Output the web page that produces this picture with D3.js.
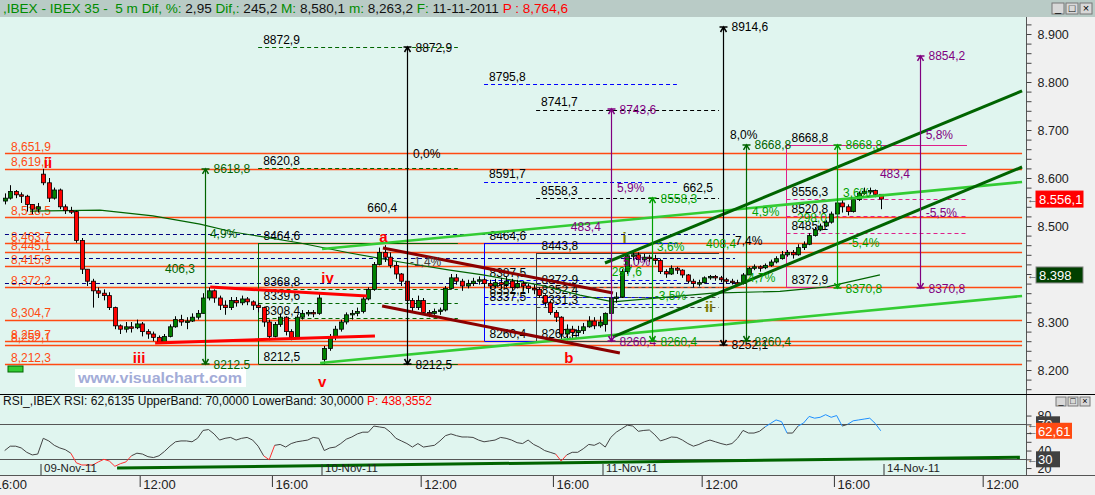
<!DOCTYPE html>
<html><head><meta charset="utf-8">
<script src="https://cdnjs.cloudflare.com/ajax/libs/d3/7.8.5/d3.min.js"></script>
<style>
html,body{margin:0;padding:0;background:#f0f0f0;overflow:hidden}
svg{display:block;font-family:"Liberation Sans",Arial,sans-serif}
</style></head><body>
<svg id="chart" width="1095" height="495"></svg>
<script>
// ================= DATA =================
const sessionDays   = ["08-Nov-11","09-Nov-11","10-Nov-11","11-Nov-11"];
const sessionIndex  = [-1, 0, 1, 2];
const sessionStart  = ["16:20","09:00","09:00","09:00"];
const sessionOpen   = [8552, 8608, 8222, 8295];

// 10-minute candles, IBEX 35
const nov8Close = [8558,8572,8565,8562,8545,8535,8540];
const nov8High  = [8568,8585,8575,8570,8565,8545,8548];
const nov8Low   = [8545,8555,8558,8548,8530,8525,8528];

const nov9Close = [8590,8558,8575,8540,8532,8530,8470,8410,8385,8365,8360,8355,8330,8292,8285,8290,8288,8296,8280,8275,8268,8258,8270,8290,8305,8300,8302,8310,8318,8350,8365,8350,8335,8330,8345,8340,8348,8342,8335,8330,8300,8270,8295,8310,8280,8268,8310,8318,8320,8318,8350];
const nov9High  = [8619,8600,8580,8578,8545,8540,8532,8475,8410,8390,8372,8368,8362,8332,8295,8300,8300,8305,8300,8285,8280,8272,8275,8295,8312,8315,8310,8318,8325,8360,8372,8368,8355,8345,8352,8352,8355,8352,8345,8340,8332,8305,8300,8318,8312,8285,8315,8325,8325,8325,8360];
const nov9Low   = [8585,8550,8555,8535,8525,8525,8465,8400,8375,8330,8350,8345,8325,8285,8275,8278,8278,8285,8270,8265,8260,8255,8255,8268,8288,8292,8285,8300,8305,8318,8345,8340,8325,8315,8325,8332,8335,8335,8325,8320,8290,8262,8268,8290,8272,8262,8265,8305,8312,8310,8315];

const nov10Close = [8245,8268,8285,8300,8315,8318,8322,8348,8368,8420,8445,8435,8418,8400,8385,8345,8330,8345,8320,8318,8322,8325,8370,8392,8385,8375,8380,8385,8388,8380,8375,8382,8378,8385,8372,8380,8375,8370,8368,8355,8340,8320,8310,8275,8285,8278,8282,8290,8302,8292,8300];
const nov10High  = [8250,8275,8292,8305,8320,8325,8330,8352,8372,8425,8455,8460,8445,8425,8402,8388,8350,8355,8350,8325,8328,8330,8375,8400,8400,8390,8388,8392,8395,8392,8388,8390,8392,8395,8390,8388,8385,8380,8378,8372,8358,8345,8325,8312,8295,8292,8292,8298,8312,8310,8312];
const nov10Low   = [8212.5,8240,8262,8280,8295,8305,8312,8318,8345,8365,8418,8425,8412,8390,8375,8340,8320,8325,8315,8310,8315,8315,8322,8368,8378,8365,8370,8375,8378,8372,8368,8370,8368,8372,8365,8370,8365,8360,8358,8350,8332,8315,8300,8262,8262,8265,8270,8275,8288,8285,8288];

const nov11Close = [8318,8350,8352,8405,8438,8440,8430,8435,8432,8428,8405,8400,8412,8408,8398,8385,8380,8382,8392,8395,8392,8388,8385,8382,8380,8398,8412,8415,8413,8418,8425,8432,8440,8445,8440,8455,8462,8480,8492,8500,8508,8525,8548,8540,8530,8555,8568,8572,8574,8566,8556.1];
const nov11High  = [8320,8358,8362,8410,8442,8447,8445,8442,8440,8440,8432,8410,8418,8415,8410,8400,8390,8388,8395,8398,8398,8396,8392,8390,8388,8402,8415,8420,8418,8422,8430,8437,8448,8450,8450,8462,8468,8485,8498,8505,8512,8530,8555,8558,8545,8560,8572,8580,8580,8576,8564];
const nov11Low   = [8280,8315,8340,8350,8400,8428,8422,8425,8425,8420,8400,8392,8398,8400,8392,8380,8372,8374,8380,8388,8386,8383,8380,8378,8375,8378,8398,8408,8405,8410,8415,8422,8430,8436,8432,8438,8450,8460,8478,8490,8498,8505,8520,8528,8522,8528,8552,8565,8566,8560,8535];

// RSI per 10-min slot
const nov8Rsi  = [40,45,45,43,38,35,36];
const nov9Rsi  = [54,51,46,43,41,37,26,23.5,23.5,23.5,27,30,28,22,25,27,34,37,36,33,32,34,39,45,50,51,51,50,54,63,64,59,52,54,55,52,54,55,52,45,34,29.5,46,47,44,48,50,51,52,55,54];
const nov10Rsi = [40,43,44,48,53,55.5,59,61,61,68,67,66,61,54,51,48,44,48,44,45,46,51,57,59,57,55.5,55.5,55,52,50,51,52,55,54,52,49,48,52,47,44,40,38,36,28,35,38,38,42,47,46,49];
const nov11Rsi = [44,55,61,65,69,68,62,63,63.5,58,51,53,55.5,55,52,48,45,47,50,52,50,48,46.5,48,54,63,60,60,62,67,71,75,73,60,60,68,71.5,79,77,78,81,78,80,68,70,74,75,76,77,71,62.61];
const rsiBands = [70, 30];

// moving average (bar = 5-min bar index from 09-Nov 09:00)
const maBars   = [-3.8,21.6,40.8,57.9,69.9,94.2,112.3,130.5,148.6,160.6,181.3,195.8,207.8,227.4,244,268.4,285.5,304.7];
const maValues = [8531,8533,8521,8504,8487.5,8464.6,8443.8,8425,8408,8398,8377,8356,8342,8352,8360,8364,8373,8398];

// horizontal support / resistance levels
const levels = [8651.9,8619.0,8518.5,8463.7,8445.1,8415.9,8372.2,8304.7,8259.7,8252.1,8212.3];
const levelSpan = [-12.9, 356.3];
const navyLevels = [8482.7, 8433.3, 8380.6];
const navySpan = [-12.9, 252.1];

// trend lines [bar1, price1, bar2, price2]
const lightGreenLines = [[101.5,8214.6,356.3,8354.2],[102.2,8452,356.3,8591.7]];
const darkGreenLines  = [[204.9,8422.9,356.3,8781.3],[207.8,8268.8,356.3,8622.9]];
const maroonLines     = [[124.3,8454.2,207.8,8360.4],[124,8333.3,210.3,8235.4]];
const redLines        = [[61.6,8372.9,118.5,8354.2],[41.6,8256.3,121.4,8270.8]];

// vertical measurements [bar, low, high, kind]
const measures = [
  [59.7,8212.5,8618.8,"dkgreen"],[133.1,8212.5,8872.9,"black"],
  [207.1,8260.4,8743.6,"purple"],[221.9,8260.4,8558.3,"green"],
  [247.7,8252.1,8914.6,"black"],[256.1,8260.4,8668.8,"dkgreen"],
  [289.1,8370.8,8668.8,"green"],[319.2,8370.8,8854.2,"purple"]
];

// projection dashed lines [barFrom, barTo, price, kind]
const projections = [
  [79,151.5,8872.9,"dkgreen"],[79,151.5,8620.8,"dkgreen"],
  [161,231,8795.8,"blue"],[161,231,8591.7,"blue"],
  [179.9,246.3,8741.7,"black"],[179.9,246.3,8558.3,"black"]
];

// retracement boxes
const boxLeft   = [79, 161, 179.9, 270.7];
const boxRight  = [151.5, 231, 246.3, 336.3];
const boxTop    = [8464.6, 8464.6, 8443.8, 8668.8];
const boxBottom = [8212.5, 8260.4, 8260.4, 8372.9];
const boxInner  = [[8368.8,8339.6,8308.4],[8387.5,8352.1,8337.5],[8372.9,8352.4,8331.3],[8556.3,8520.8,8485.1]];
const boxKind   = ["dkgreen","blue","gray","pink"];

// text notes [bar, price, text, kind]
const notes = [
  [61.5,8475,"4,9%","dkgreen"],[45.2,8402.7,"406,3","dkgreen"],
  [118.6,8528.5,"660,4","black"],[135.2,8642.3,"0,0%","black"],
  [134.1,8416,"-1,4%","gray"],[192.5,8490,"483,4","purple"],
  [209.3,8571.5,"5,9%","purple"],[211.4,8416.7,"5,0%","purple"],
  [207.4,8395.8,"297,6","green"],[223.8,8448.6,"3,6%","green"],
  [223,8345.8,"-3,5%","green"],[233.2,8571.5,"662,5","black"],
  [250.3,8681,"8,0%","black"],[258.3,8520.8,"4,9%","green"],
  [241.6,8453.5,"408,4","green"],[252.1,8460.4,"7,4%","black"],
  [256.8,8384,"4,7%","green"],[291.3,8561,"3,6%","green"],
  [304.7,8599.4,"483,4","purple"],[321.3,8681,"5,8%","purple"],
  [321.3,8519.4,"-5,5%","purple"],[293.1,8457,"-5,4%","green"],
  [274.6,8509,"298,0","green"]
];

// Elliott wave labels [bar, price, text, kind]
const waves = [
  [2.7,8620,"ii","red"],[35.8,8214,"iii","red"],[104.2,8380.6,"iv","red"],
  [102.2,8164.6,"v","red"],[124.5,8467.3,"a","red"],[191.8,8214,"b","red"],
  [212,8464,"i","olive"],[242.7,8321.5,"ii","olive"]
];

// RSI trend line [bar1, rsi1, bar2, rsi2]
const rsiTrend = [27.8, 20, 355.5, 32.3];

// axes
const priceTicks = d3.range(8160, 8921, 20);
const timeTickDay  = [-1, 0, 0, 1, 1, 2, 2, 3];
const timeTickTime = ["16:00","12:00","16:00","12:00","16:00","12:00","16:00","12:00"];
const dateLabels = ["09-Nov-11","10-Nov-11","11-Nov-11","14-Nov-11"];
const dateDay    = [0, 1, 2, 3];
const rsiTicks = [20,30,40,50,60,70,80];

// header
const headerParts = [[",IBEX - IBEX 35 -  5 m Dif, %: ","g"],["2,95 ","k"],["Dif,: ","g"],["245,2 ","k"],["M: ","g"],["8,580,1 ","k"],["m: ","g"],["8,263,2 ","k"],["F: ","g"],["11-11-2011 ","k"],["P : 8,764,6","r"]];
const rsiHeader = [["RSI_,IBEX RSI: 62,6135 UpperBand: 70,0000 LowerBand: 30,0000 ","k"],["P: 438,3552","r"]];

// ================= DRAWING =================
const C = {orange:"#ff4a12", navy:"#000080", dkgreen:"#006400", green:"#00a000", purple:"#800080",
  black:"#000000", blue:"#0000ff", pink:"#e0208a", gray:"#404040", red:"#ff0000", olive:"#808000",
  ltgreen:"#33cc33", maroon:"#8b0000", g:"#008c00", k:"#111111", r:"#ff0000"};

const BARS_PER_DAY = 102;
function barOf(day, hhmm){ const [h,m]=hhmm.split(":").map(Number); return day*BARS_PER_DAY + ((h-9)*60+m)/5; }

const x = d3.scaleLinear().domain([0, BARS_PER_DAY]).range([40.5, 321.5]);
const y = d3.scaleLinear().domain([8200, 8900]).range([370, 34]);
const yr = d3.scaleLinear().domain([30, 70]).range([459.3, 424.3]);

const fmt1 = v => v.toFixed(1).replace(".", ",");
const fmt2 = v => v.toFixed(2).replace(".", ",");
const fmtLevel = v => { const s = fmt1(v); return s.slice(0,1) + "," + s.slice(1); };
const fmtAxis = v => d3.format(",")(v).replace(",", ".");

// build candles
const sessionsData = [
  [nov8Close,nov8High,nov8Low,nov8Rsi],[nov9Close,nov9High,nov9Low,nov9Rsi],
  [nov10Close,nov10High,nov10Low,nov10Rsi],[nov11Close,nov11High,nov11Low,nov11Rsi]
];
const candles = [];
sessionsData.forEach((s, si) => {
  const b0 = barOf(sessionIndex[si], sessionStart[si]);
  let prev = sessionOpen[si];
  s[0].forEach((c, j) => {
    const o = prev;
    candles.push({bar: b0 + 2*j + 1, o, c, h: Math.max(s[1][j], o, c), l: Math.min(s[2][j], o, c), rsi: s[3][j]});
    prev = c;
  });
});

const svg = d3.select("#chart");
svg.append("rect").attr("width",1095).attr("height",495).attr("fill","#f0f0f0");
svg.append("rect").attr("x",0).attr("y",0).attr("width",1095).attr("height",17).attr("fill","#b9cbc6");
svg.append("rect").attr("x",0).attr("y",17).attr("width",1026).attr("height",377).attr("fill","#e0f5ef");
svg.append("rect").attr("x",0).attr("y",395).attr("width",1026).attr("height",80).attr("fill","#e0f5ef");

const defs = svg.append("defs");
defs.append("clipPath").attr("id","plotClip").append("rect").attr("x",0).attr("y",17).attr("width",1026).attr("height",377);
defs.append("clipPath").attr("id","rsiClip").append("rect").attr("x",0).attr("y",395).attr("width",1026).attr("height",80);

const plot = svg.append("g").attr("clip-path","url(#plotClip)");

// levels
plot.append("g").selectAll("line").data(levels).join("line")
  .attr("x1",x(levelSpan[0])).attr("x2",x(levelSpan[1]))
  .attr("y1",d=>Math.round(y(d))+0.5).attr("y2",d=>Math.round(y(d))+0.5)
  .attr("stroke",C.orange).attr("stroke-width",1.3);
plot.append("g").selectAll("text").data(levels).join("text")
  .attr("x",x(levelSpan[0])+6).attr("y",d=>y(d)-2.5)
  .attr("fill",C.orange).attr("font-size",12).text(fmtLevel);

plot.append("g").selectAll("line").data(navyLevels).join("line")
  .attr("x1",x(navySpan[0])).attr("x2",x(navySpan[1]))
  .attr("y1",d=>Math.round(y(d))+0.5).attr("y2",d=>Math.round(y(d))+0.5)
  .attr("stroke",C.navy).attr("stroke-dasharray","4,3");

// boxes
const gBox = plot.append("g").attr("font-size",12);
boxLeft.forEach((bl, i) => {
  const col = C[boxKind[i]];
  const xl = Math.round(x(bl))+0.5, xr = x(boxRight[i]);
  gBox.append("line").attr("x1",xl).attr("x2",xl).attr("y1",y(boxTop[i])).attr("y2",y(boxBottom[i])).attr("stroke",col);
  [boxTop[i], boxBottom[i]].forEach((p, k) => {
    const xe = (boxKind[i] === "pink" && k === 1) ? xl + 45 : xr;
    gBox.append("line").attr("x1",xl).attr("x2",xe).attr("y1",Math.round(y(p))+0.5).attr("y2",Math.round(y(p))+0.5).attr("stroke",col);
    gBox.append("text").attr("x",xl+5).attr("y",y(p)-3).attr("fill","#000").text(fmt1(p));
  });
  boxInner[i].forEach(p => {
    gBox.append("line").attr("x1",xl).attr("x2",xr).attr("y1",Math.round(y(p))+0.5).attr("y2",Math.round(y(p))+0.5)
      .attr("stroke",col).attr("stroke-dasharray","4,3");
    gBox.append("text").attr("x",xl+5).attr("y",y(p)-3).attr("fill","#000").text(fmt1(p));
  });
});

// projections
const gProj = plot.append("g").attr("font-size",12);
projections.forEach(([b1,b2,p,k]) => {
  gProj.append("line").attr("x1",x(b1)).attr("x2",x(b2)).attr("y1",Math.round(y(p))+0.5).attr("y2",Math.round(y(p))+0.5)
    .attr("stroke",C[k]).attr("stroke-dasharray","4,3");
  gProj.append("text").attr("x",x(b1)+5).attr("y",y(p)-3.5).attr("fill","#000").text(fmt1(p));
});

// moving average
plot.append("path").datum(maBars.map((b,i)=>[b,maValues[i]]))
  .attr("d", d3.line().x(d=>x(d[0])).y(d=>y(d[1])))
  .attr("fill","none").attr("stroke",C.dkgreen).attr("stroke-width",1.2);

// candles
const gC = plot.append("g");
gC.selectAll("line").data(candles).join("line")
  .attr("x1",d=>Math.round(x(d.bar))+0.5).attr("x2",d=>Math.round(x(d.bar))+0.5)
  .attr("y1",d=>y(d.h)).attr("y2",d=>y(d.l)).attr("stroke","#000");
gC.selectAll("rect").data(candles).join("rect")
  .attr("x",d=>Math.round(x(d.bar))-1.5).attr("width",4)
  .attr("y",d=>y(Math.max(d.o,d.c))).attr("height",d=>Math.max(1.5, Math.abs(y(d.o)-y(d.c))))
  .attr("fill",d=>d.c>=d.o ? "#008000" : "#ff0000").attr("stroke","#000").attr("stroke-width",0.8);

// trend lines
function drawLines(arr, col, w){
  plot.append("g").selectAll("line").data(arr).join("line")
    .attr("x1",d=>x(d[0])).attr("y1",d=>y(d[1])).attr("x2",d=>x(d[2])).attr("y2",d=>y(d[3]))
    .attr("stroke",col).attr("stroke-width",w);
}
drawLines(lightGreenLines, C.ltgreen, 2.6);
drawLines(darkGreenLines, C.dkgreen, 3);
drawLines(maroonLines, C.maroon, 3);
drawLines(redLines, C.red, 3);

// vertical measures
const gM = plot.append("g").attr("font-size",12);
measures.forEach(([b,lo,hi,k]) => {
  const cx = Math.round(x(b))+0.5, yt = y(hi), yb = y(lo), col = C[k];
  gM.append("line").attr("x1",cx).attr("x2",cx).attr("y1",yt).attr("y2",yb).attr("stroke",col).attr("stroke-width",1.2);
  gM.append("path").attr("d",`M${cx-4},${yt}L${cx+4},${yt}M${cx-3},${yt+5}L${cx},${yt}L${cx+3},${yt+5}`).attr("stroke",col).attr("fill","none").attr("stroke-width",1.5);
  gM.append("path").attr("d",`M${cx-4},${yb}L${cx+4},${yb}M${cx-3},${yb-5}L${cx},${yb}L${cx+3},${yb-5}`).attr("stroke",col).attr("fill","none").attr("stroke-width",1.5);
  gM.append("text").attr("x",cx+8).attr("y",yt+4.5).attr("fill",col).text(fmt1(hi));
  gM.append("text").attr("x",cx+8).attr("y",yb+4.5).attr("fill",col).text(fmt1(lo));
});

// notes
plot.append("g").attr("font-size",12).selectAll("text").data(notes).join("text")
  .attr("x",d=>x(d[0])).attr("y",d=>y(d[1])).attr("fill",d=>C[d[3]]).text(d=>d[2]);

// waves
plot.append("g").attr("font-size",15).attr("font-weight","bold").attr("text-anchor","middle")
  .selectAll("text").data(waves).join("text")
  .attr("x",d=>x(d[0])).attr("y",d=>y(d[1])).attr("fill",d=>C[d[3]]).text(d=>d[2]);

// watermark & small legend box
svg.append("rect").attr("x",75).attr("y",369).attr("width",171).attr("height",18).attr("fill","#ffffff");
svg.append("text").attr("x",78).attr("y",383).attr("font-size",15).attr("font-weight","bold")
  .attr("fill","#a3acd8").attr("textLength",164).attr("lengthAdjust","spacingAndGlyphs").text("www.visualchart.com");
svg.append("rect").attr("x",8).attr("y",366).attr("width",15).attr("height",6).attr("fill","#33cc33").attr("stroke","#006600");

// price tags (values from data)
const lastClose = candles[candles.length-1].c;
const lastMa = maValues[maValues.length-1];
const priceTags = [
  [lastClose, fmtAxis(Math.floor(lastClose)) + "," + fmt1(lastClose).split(",")[1], "#ff0000", "#ff0000"],
  [lastMa, fmtAxis(lastMa), "#004000", "#888"]
];

// price axis
svg.append("line").attr("x1",1026.5).attr("x2",1026.5).attr("y1",17).attr("y2",394).attr("stroke","#555");
const gY = svg.append("g").attr("transform","translate(1026.5,0)")
  .call(d3.axisRight(y).tickValues(priceTicks).tickSize(5)
    .tickFormat(d => (d % 100 === 0 && !priceTags.some(t => Math.abs(y(t[0]) - y(d)) < 12)) ? fmtAxis(d) : ""));
gY.select(".domain").remove();
gY.selectAll(".tick").filter(d => y(d) < 18 || y(d) > 393).remove();
gY.selectAll("line").attr("stroke","#444");
gY.selectAll("text").attr("x",11).attr("font-size",12.5).attr("fill","#222").attr("font-family","Liberation Sans, Arial");

priceTags.forEach(([v, t, fill, st]) => {
  const yy = y(v);
  svg.append("rect").attr("x",1036).attr("y",yy-8).attr("width",47).attr("height",16).attr("fill",fill).attr("stroke",st);
  svg.append("text").attr("x",1039).attr("y",yy+5).attr("fill","#fff").attr("font-size",13).text(t);
  svg.append("text").attr("x",1027).attr("y",yy+4).attr("fill","#444").attr("font-size",11).text("←");
});

// header bar
const hdr = svg.append("text").attr("x",3).attr("y",13).attr("font-size",12).attr("xml:space","preserve")
  .attr("textLength",565).attr("lengthAdjust","spacingAndGlyphs");
headerParts.forEach(([t,k]) => hdr.append("tspan").attr("fill",C[k]).text(t));
function winButtons(x0, y0, w, h){
  const g = svg.append("g");
  ["_","□","×"].forEach((s,i) => {
    g.append("rect").attr("x",x0+i*(w+2)).attr("y",y0).attr("width",w).attr("height",h).attr("fill","#d8d8d8").attr("stroke","#777");
    g.append("text").attr("x",x0+i*(w+2)+w/2).attr("y",y0+h-2).attr("text-anchor","middle").attr("font-size",h).attr("fill","#000").text(s);
  });
}
winButtons(1052, 3, 12, 11);

// separator
svg.append("line").attr("x1",0).attr("x2",1095).attr("y1",394.5).attr("y2",394.5).attr("stroke","#000");

// ===== RSI panel =====
const rsiG = svg.append("g").attr("clip-path","url(#rsiClip)");
const rh = svg.append("text").attr("x",3).attr("y",405).attr("font-size",12).attr("textLength",429).attr("lengthAdjust","spacingAndGlyphs");
rsiHeader.forEach(([t,k]) => rh.append("tspan").attr("fill",C[k]).text(t));
winButtons(1056, 397, 10, 9);

rsiG.selectAll("line.band").data(rsiBands).join("line").attr("class","band")
  .attr("x1",0).attr("x2",1026).attr("y1",d=>Math.round(yr(d))+0.5).attr("y2",d=>Math.round(yr(d))+0.5)
  .attr("stroke","#555");
rsiG.append("line").attr("x1",x(rsiTrend[0])).attr("y1",yr(rsiTrend[1])).attr("x2",x(rsiTrend[2])).attr("y2",yr(rsiTrend[3]))
  .attr("stroke","#006400").attr("stroke-width",3);
const segs = d3.pairs(candles);
rsiG.selectAll("line.rsi").data(segs).join("line").attr("class","rsi")
  .attr("x1",d=>x(d[0].bar)).attr("y1",d=>yr(d[0].rsi)).attr("x2",d=>x(d[1].bar)).attr("y2",d=>yr(d[1].rsi))
  .attr("stroke",d => (d[0].rsi < 30 || d[1].rsi < 30) ? "#ff3030" : (d[0].rsi > 70 || d[1].rsi > 70) ? "#1e8fff" : "#444")
  .attr("stroke-width",1);

// date separators
const gD = rsiG.append("g").attr("transform","translate(0,464)")
  .call(d3.axisBottom(x).tickValues(dateDay.map(d=>d*BARS_PER_DAY)).tickSize(11).tickFormat((d,i)=>dateLabels[i]));
gD.select(".domain").remove();
gD.selectAll("line").attr("stroke","#333");
gD.selectAll("text").attr("x",3).attr("y",8).attr("dy",0).attr("text-anchor","start").attr("font-size",11.5).attr("fill","#222").attr("font-family","Liberation Sans, Arial");

// RSI axis
svg.append("line").attr("x1",1026.5).attr("x2",1026.5).attr("y1",395).attr("y2",475).attr("stroke","#555");
const gR = svg.append("g").attr("transform","translate(1026.5,0)")
  .call(d3.axisRight(yr).tickValues(rsiTicks).tickSize(5).tickFormat(d => [80,40,20].includes(d) ? d : ""));
gR.select(".domain").remove();
gR.selectAll("line").attr("stroke","#444");
gR.selectAll("text").attr("x",11).attr("font-size",12.5).attr("fill","#222").attr("font-family","Liberation Sans, Arial");
const lastRsi = candles[candles.length-1].rsi;
[[70,"70","#404040",24],[30,"30","#404040",24],[lastRsi, fmt2(lastRsi), "#ff4a12", 36]].forEach(([v,t,fill,w]) => {
  const yy = yr(v);
  svg.append("rect").attr("x",1036).attr("y",yy-8).attr("width",w).attr("height",16).attr("fill",fill);
  svg.append("text").attr("x",1038).attr("y",yy+5).attr("fill","#fff").attr("font-size",13).text(t);
  svg.append("text").attr("x",1027).attr("y",yy+4).attr("fill","#444").attr("font-size",11).text("←");
});

// time axis
svg.append("line").attr("x1",0).attr("x2",1095).attr("y1",475.5).attr("y2",475.5).attr("stroke","#555");
const gT = svg.append("g").attr("transform","translate(0,476)")
  .call(d3.axisBottom(x).tickValues(timeTickDay.map((d,i)=>barOf(d,timeTickTime[i]))).tickSize(11).tickFormat((d,i)=>timeTickTime[i]));
gT.select(".domain").remove();
gT.selectAll("line").attr("stroke","#333");
gT.selectAll("text").attr("x",3).attr("y",13).attr("dy",0).attr("text-anchor","start").attr("font-size",13).attr("fill","#222").attr("font-family","Liberation Sans, Arial");
</script>
</body></html>
